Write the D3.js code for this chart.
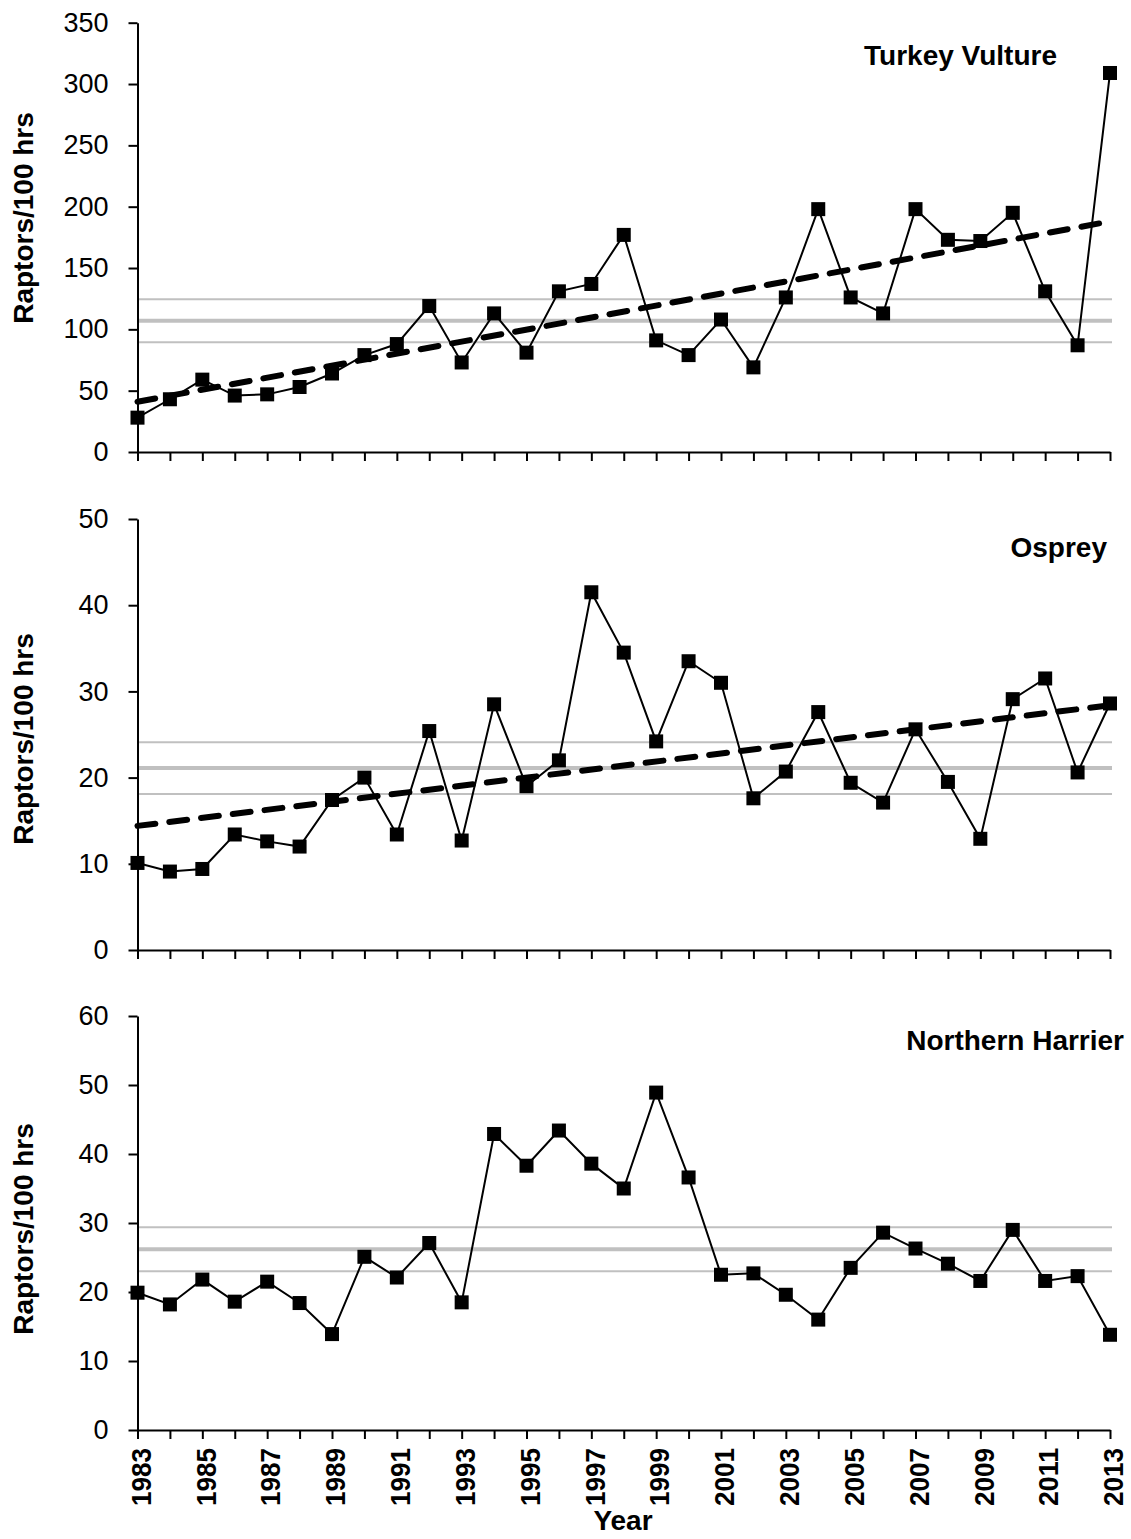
<!DOCTYPE html>
<html lang="en">
<head>
  <meta charset="UTF-8">
  <title>Raptors per 100 hours</title>
  <style>
    body {
      margin: 0;
      background: white;
    }
    #chart text {
      font-family: Arial, "Liberation Sans", sans-serif;
      fill: black;
    }
    .axis path,
    .axis line {
      stroke: black;
      stroke-width: 2px;
    }
  </style>
</head>
<body>
  <div id="chart"></div>

  <script src="https://d3js.org/d3.v7.min.js"></script>
  <script>
    // years on the category axis, labels shown on every other one
    const years = [1983, 1984, 1985, 1986, 1987, 1988, 1989, 1990, 1991, 1992,
      1993, 1994, 1995, 1996, 1997, 1998, 1999, 2000, 2001, 2002,
      2003, 2004, 2005, 2006, 2007, 2008, 2009, 2010, 2011, 2012, 2013];
    const yearLabels = ["1983", "1985", "1987", "1989", "1991", "1993", "1995", "1997",
      "1999", "2001", "2003", "2005", "2007", "2009", "2011", "2013"];

    // raptors per 100 hrs
    const turkeyVulture = [28, 43, 59, 46, 47, 53, 64, 79, 88, 119,
      73, 113, 81, 131, 137, 177, 91, 79, 108, 69,
      126, 198, 126, 113, 198, 173, 172, 195, 131, 87, 309];
    const osprey = [10.1, 9.1, 9.4, 13.4, 12.6, 12.0, 17.4, 20.0, 13.4, 25.4,
      12.7, 28.5, 19.0, 22.0, 41.5, 34.5, 24.2, 33.5, 31.0, 17.6,
      20.7, 27.6, 19.4, 17.1, 25.6, 19.5, 12.9, 29.1, 31.5, 20.6, 28.6];
    const northernHarrier = [19.9, 18.2, 21.8, 18.6, 21.5, 18.4, 13.9, 25.1, 22.1, 27.1,
      18.5, 42.9, 38.3, 43.4, 38.6, 35.0, 48.9, 36.6, 22.5, 22.7,
      19.6, 16.0, 23.5, 28.6, 26.3, 24.1, 21.6, 29.0, 21.6, 22.3, 13.8];

    // mean and limits (grey lines)
    const tvBands = [89.5, 107, 124.5];
    const ospreyBands = [18.1, 21.1, 24.1];
    const harrierBands = [23.0, 26.2, 29.4];

    // linear trend values at 1983 and 2013
    const tvTrend = [41, 188];
    const ospreyTrend = [14.4, 28.4];

    // y tick labels
    const tvTicks = [0, 50, 100, 150, 200, 250, 300, 350];
    const ospreyTicks = [0, 10, 20, 30, 40, 50];
    const harrierTicks = [0, 10, 20, 30, 40, 50, 60];

    const svg = d3.select('#chart')
      .append('svg')
      .attr('width', 1131)
      .attr('height', 1539)
      .style('background', 'white');

    const x = d3.scaleLinear()
      .domain([1983, 2013])
      .range([137.5, 1110]);

    function drawPanel(p) {
      const y = d3.scaleLinear()
        .domain([p.ticks[0], p.ticks[p.ticks.length - 1]])
        .range([p.bottom, p.top]);
      const g = svg.append('g');

      // grey mean / limit lines
      g.selectAll('line.band')
        .data(p.bands)
        .enter()
        .append('line')
        .attr('class', 'band')
        .attr('x1', x(1983))
        .attr('x2', x(2013) + 2)
        .attr('y1', d => y(d))
        .attr('y2', d => y(d))
        .attr('stroke', '#c0c0c0')
        .attr('stroke-width', (d, i) => i === 1 ? 4 : 2);

      // y axis
      const ya = g.append('g')
        .attr('class', 'axis')
        .attr('transform', 'translate(' + x(1983) + ',0)')
        .call(d3.axisLeft(y).tickValues(p.ticks).tickSize(9).tickSizeOuter(0).tickPadding(20));
      ya.selectAll('text')
        .attr('font-size', 27);

      // x axis
      const xa = g.append('g')
        .attr('class', 'axis')
        .attr('transform', 'translate(0,' + p.bottom + ')')
        .call(d3.axisBottom(x)
          .tickValues(years)
          .tickSize(9)
          .tickSizeOuter(0)
          .tickFormat(d => p.labels && yearLabels.includes(String(d)) ? String(d) : ''));
      if (p.labels) {
        xa.selectAll('text')
          .attr('transform', 'rotate(-90)')
          .attr('text-anchor', 'end')
          .attr('x', -18)
          .attr('y', 3)
          .attr('dy', '.35em')
          .attr('font-size', 28)
          .attr('font-weight', 'bold')
          .attr('textLength', 58)
          .attr('lengthAdjust', 'spacingAndGlyphs');
      }

      // data line
      const line = d3.line()
        .x((d, i) => x(years[i]))
        .y(d => y(d));
      g.append('path')
        .datum(p.values)
        .attr('d', line)
        .attr('fill', 'none')
        .attr('stroke', 'black')
        .attr('stroke-width', 2);

      // square markers
      g.selectAll('rect')
        .data(p.values)
        .enter()
        .append('rect')
        .attr('x', (d, i) => x(years[i]) - 7)
        .attr('y', d => y(d) - 7)
        .attr('width', 14)
        .attr('height', 14)
        .attr('fill', 'black');

      // dashed trend line
      if (p.trend) {
        g.append('line')
          .attr('x1', x(1983))
          .attr('x2', x(2013))
          .attr('y1', y(p.trend[0]))
          .attr('y2', y(p.trend[1]))
          .attr('stroke', 'black')
          .attr('stroke-width', 6)
          .attr('stroke-linecap', 'round')
          .attr('stroke-dasharray', '18,14');
      }

      // species name
      g.append('text')
        .attr('x', p.nameX)
        .attr('y', p.nameY)
        .attr('text-anchor', 'end')
        .attr('font-size', 28)
        .attr('font-weight', 'bold')
        .text(p.name);

      // y axis title
      g.append('text')
        .attr('transform', 'translate(33,' + p.titleY + ') rotate(-90)')
        .attr('text-anchor', 'middle')
        .attr('font-size', 28)
        .attr('font-weight', 'bold')
        .text('Raptors/100 hrs');
    }

    drawPanel({
      values: turkeyVulture, bands: tvBands, trend: tvTrend, ticks: tvTicks,
      top: 22.7, bottom: 452, name: 'Turkey Vulture', nameX: 1057, nameY: 65, titleY: 218
    });
    drawPanel({
      values: osprey, bands: ospreyBands, trend: ospreyTrend, ticks: ospreyTicks,
      top: 519, bottom: 950, name: 'Osprey', nameX: 1107, nameY: 557, titleY: 739
    });
    drawPanel({
      values: northernHarrier, bands: harrierBands, ticks: harrierTicks,
      top: 1016, bottom: 1430, name: 'Northern Harrier', nameX: 1124, nameY: 1050, titleY: 1229,
      labels: true
    });

    svg.append('text')
      .attr('x', 623)
      .attr('y', 1530)
      .attr('text-anchor', 'middle')
      .attr('font-size', 28)
      .attr('font-weight', 'bold')
      .text('Year');
  </script>
</body>
</html>
